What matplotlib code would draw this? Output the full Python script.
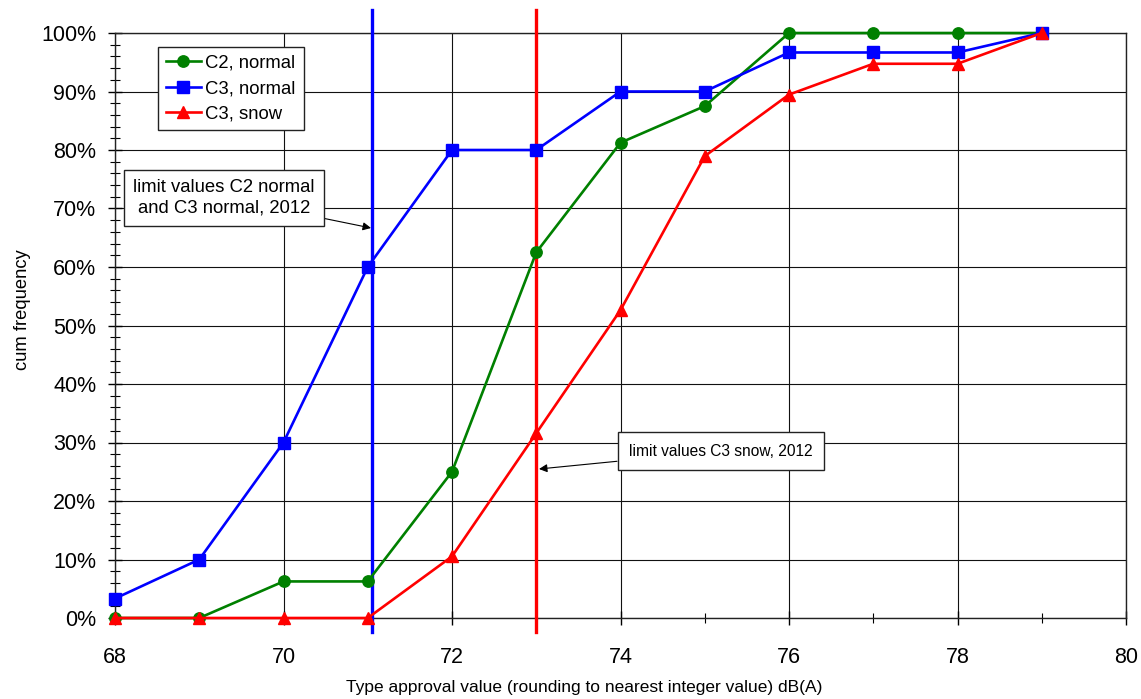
import matplotlib
matplotlib.use("Agg")
import matplotlib.pyplot as plt
from matplotlib.ticker import MultipleLocator, FuncFormatter

plt.rcParams['font.family'] = ['Liberation Sans', 'DejaVu Sans']

x_values = [68, 69, 70, 71, 72, 73, 74, 75, 76, 77, 78, 79]
c2_normal = [0.0, 0.0, 6.25, 6.25, 25.0, 62.5, 81.25, 87.5, 100.0, 100.0, 100.0, 100.0]
c3_normal = [3.33, 10.0, 30.0, 60.0, 80.0, 80.0, 90.0, 90.0, 96.67, 96.67, 96.67, 100.0]
c3_snow = [0.0, 0.0, 0.0, 0.0, 10.53, 31.58, 52.63, 78.95, 89.47, 94.74, 94.74, 100.0]
series_labels = ["C2, normal", "C3, normal", "C3, snow"]
limit_c2_c3_normal = 71.05
limit_c3_snow = 73.0
annot1_text = "limit values C2 normal\nand C3 normal, 2012"
annot2_text = "limit values C3 snow, 2012"
xlabel_text = "Type approval value (rounding to nearest integer value) dB(A)"
ylabel_text = "cum frequency"

W, H = 1141, 699
L, R, T, B = 115, 1126, 33, 618
fig = plt.figure(figsize=(W / 100, H / 100), dpi=100)
ax = fig.add_axes([L / W, 1 - B / H, (R - L) / W, (B - T) / H])

ax.plot(x_values, c2_normal, color='#008000', lw=1.9, marker='o', ms=8.2, label=series_labels[0], zorder=4, clip_on=False)
ax.plot(x_values, c3_normal, color='#0000FF', lw=1.9, marker='s', ms=8.6, label=series_labels[1], zorder=4, clip_on=False)
ax.plot(x_values, c3_snow, color='#FF0000', lw=1.9, marker='^', ms=9.2, label=series_labels[2], zorder=5, clip_on=False)

# limit lines extending beyond axes
ax.plot([limit_c2_c3_normal, limit_c2_c3_normal], [-2.4, 103.9], color='#0000FF', lw=2.4, clip_on=False, zorder=3)
ax.plot([limit_c3_snow, limit_c3_snow], [-2.4, 103.9], color='#FF0000', lw=2.4, clip_on=False, zorder=3)

ax.set_xlim(68, 80)
ax.set_ylim(0, 100)
ax.xaxis.set_major_locator(MultipleLocator(2))
ax.xaxis.set_minor_locator(MultipleLocator(1))
ax.yaxis.set_major_locator(MultipleLocator(10))
ax.yaxis.set_minor_locator(MultipleLocator(2))
ax.yaxis.set_major_formatter(FuncFormatter(lambda v, p: f"{int(round(v))}%"))

ax.grid(True, which='major', color='#111111', lw=0.8, zorder=1)
ax.set_axisbelow(True)
for s in ax.spines.values():
    s.set_color('#222222')
    s.set_linewidth(1.0)

ax.tick_params(axis='both', which='major', direction='inout', length=10, width=1.0, labelsize=15.5, color='k')
ax.tick_params(axis='both', which='minor', direction='inout', length=7, width=0.8, color='k')
ax.tick_params(axis='x', which='major', pad=16)
ax.tick_params(axis='y', which='major', pad=8.5)

ax.set_xlabel(xlabel_text, fontsize=12.5)
ax.xaxis.set_label_coords(0.464, -0.106)
ax.set_ylabel(ylabel_text, fontsize=13.2)
ax.yaxis.set_label_coords(-0.083, 0.527)

leg = ax.legend(loc='upper left', bbox_to_anchor=(158 / W, 1 - 47 / H), bbox_transform=fig.transFigure,
                borderaxespad=0, fancybox=False, framealpha=1, edgecolor='#222222', fontsize=13.3,
                handlelength=1.9, handletextpad=0.25, labelspacing=0.45, borderpad=0.42)
leg.get_frame().set_linewidth(1.0)

def px2data(px, py):
    return (68 + (px - L) / (R - L) * 12, (B - py) / (B - T) * 100)

ax.annotate(annot1_text, xy=px2data(371, 228), xytext=px2data(224, 198),
            ha='center', va='center', fontsize=13.3, linespacing=1.28,
            bbox=dict(boxstyle='square,pad=0.5', fc='white', ec='#222222', lw=1.0),
            arrowprops=dict(arrowstyle='-|>', color='k', lw=0.8, mutation_scale=12,
                            shrinkA=0, shrinkB=0), zorder=6)
ax.annotate(annot2_text, xy=px2data(539, 469), xytext=px2data(721, 451),
            ha='center', va='center', fontsize=11.2,
            bbox=dict(boxstyle='square,pad=0.75', fc='white', ec='#222222', lw=1.0),
            arrowprops=dict(arrowstyle='-|>', color='k', lw=0.8, mutation_scale=12,
                            shrinkA=0, shrinkB=0), zorder=6)

fig.savefig('out.png', dpi=100)
